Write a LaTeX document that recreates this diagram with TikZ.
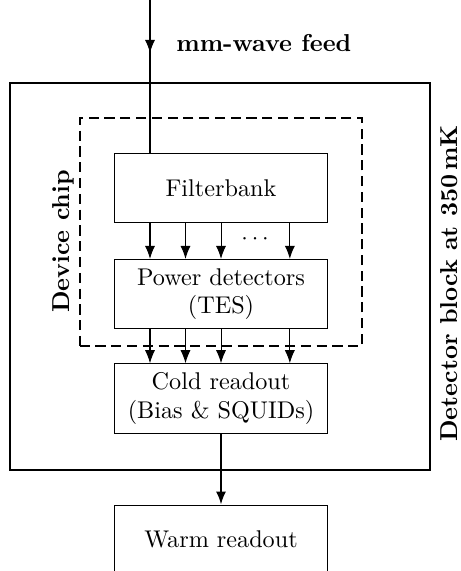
\documentclass[tikz,border=0pt]{standalone}
\usetikzlibrary{positioning, arrows.meta}
\tikzset{block/.style={draw, minimum width=2.93cm, minimum height=0.96cm, align=center}}
\tikzset{vlabel/.style={rotate=90, font=\fontsize{9.6pt}{11.3pt}\selectfont\bfseries}}

\begin{document}
\begin{tikzpicture}[>={Latex[length=1.8mm, width=1.4mm]}, font=\fontsize{9.5pt}{11.3pt}\selectfont]
            \useasboundingbox (0,0) rectangle (6.36,-7.88);
            \clip (0,0) rectangle (6.36,-7.88);
            \node[block] (fb) at (3.05,-2.595) {Filterbank};
            \node[block] (pd) at (3.05,-4.06) {Power detectors\\(TES)};
            \node[block] (cr) at (3.05,-5.50) {Cold readout\\(Bias \& SQUIDs)};
            \node[block] (wr) at (3.05,-7.45) {Warm readout};
            % Chip and cold block
            \node[draw, line width=0.8pt, dash pattern=on 4pt off 2.2pt, minimum width=3.9cm, minimum height=3.14cm] (chip) at (3.05,-3.20) {};
            \node[draw, line width=0.9pt, minimum width=5.79cm, minimum height=5.34cm] (block) at (3.035,-3.82) {};
            \node[vlabel] (chiplbl) at (0.88,-3.33) {Device chip};
            \node[vlabel] (blocklbl) at (6.20,-3.91) {Detector block at 350\,mK};
            % Feed
            \coordinate (feed) at (2.07,0);
            \draw[->] (feed) -- ++(0,-0.73);
            \draw (feed) -- (feed |- fb.north);
            \node[anchor=west, font=\fontsize{9.6pt}{11.3pt}\selectfont\bfseries] (feedlbl) at (2.31,-0.59) {mm-wave feed};
            % Channels
            \foreach \dx in {-0.98,-0.49,0,0.95} {
                \draw[->] ([xshift=\dx cm]fb.south) -- ([xshift=\dx cm]pd.north);
                \draw[->] ([xshift=\dx cm]pd.south) -- ([xshift=\dx cm]cr.north);
            }
            \node (dots) at ([xshift=0.47cm, yshift=-0.22cm]fb.south) {$\cdots$};
            \draw[->, line width=0.8pt] (cr) -- (wr);
        \end{tikzpicture}
\end{document}
